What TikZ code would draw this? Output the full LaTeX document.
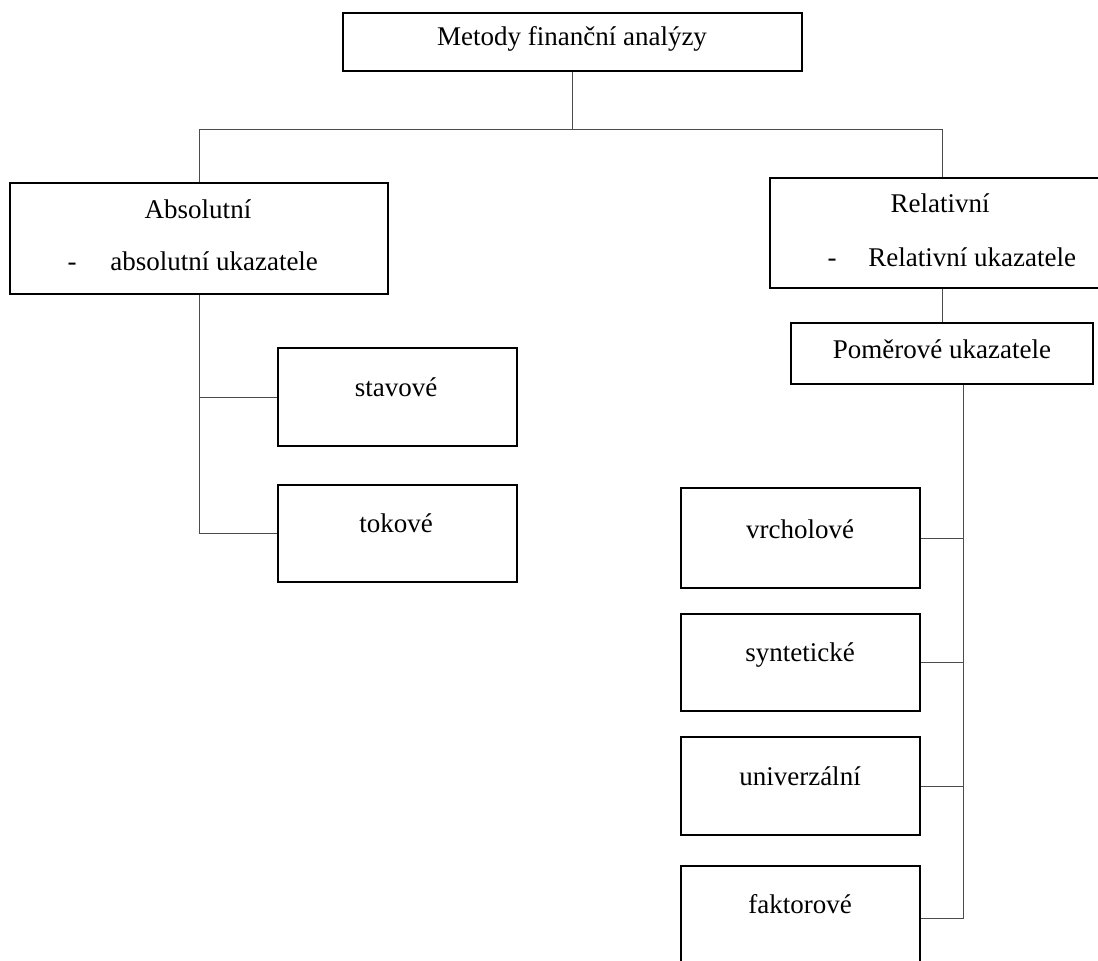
\documentclass[tikz,border=0pt]{standalone}
\usepackage{fontspec}
\setmainfont{Liberation Serif}
\usetikzlibrary{calc}
\begin{document}
\begin{tikzpicture}[x=0.025cm,y=-0.025cm,
  box/.style={draw=black,line width=1.7pt,rectangle,inner sep=0pt,anchor=north west},
  conn/.style={draw=black!70,line width=0.75pt},
  lbl/.style={inner sep=0pt,anchor=base,font=\fontsize{19.2}{23}\selectfont},
  lbll/.style={inner sep=0pt,anchor=base west,font=\fontsize{19.2}{23}\selectfont}]
\clip (0,0) rectangle (1098,960);
% boxes
\node[box,minimum width=459*0.025cm,minimum height=58*0.025cm] (top) at (342,12) {};
\node[box,minimum width=378*0.025cm,minimum height=111*0.025cm] (abs) at (9,182) {};
\node[box,minimum width=344*0.025cm,minimum height=110*0.025cm] (rel) at (769,177) {};
\node[box,minimum width=239*0.025cm,minimum height=98*0.025cm] (stav) at (277,347) {};
\node[box,minimum width=239*0.025cm,minimum height=97*0.025cm] (tok) at (277,484) {};
\node[box,minimum width=302*0.025cm,minimum height=61*0.025cm] (pom) at (790,322) {};
\node[box,minimum width=239*0.025cm,minimum height=100*0.025cm] (vrch) at (680,487) {};
\node[box,minimum width=239*0.025cm,minimum height=97*0.025cm] (synt) at (680,613) {};
\node[box,minimum width=239*0.025cm,minimum height=98*0.025cm] (univ) at (680,736) {};
\node[box,minimum width=239*0.025cm,minimum height=104*0.025cm] (fakt) at (680,865) {};
% texts
\node[lbl] (ttop) at (572,45) {Metody finanční analýzy};
\node[lbl] (tabs1) at (198,218) {Absolutní};
\node[lbl] (tabsd) at (72,270) {-};
\node[lbll] (tabs2) at (110,270) {absolutní ukazatele};
\node[lbl] (trel1) at (940,212) {Relativní};
\node[lbl] (treld) at (832,266) {-};
\node[lbll] (trel2) at (868,266) {Relativní ukazatele};
\node[lbl] (tpom) at (942,358) {Poměrové ukazatele};
\node[lbl] (tstav) at (396,396) {stavové};
\node[lbl] (ttok) at (396,532) {tokové};
\node[lbl] (tvrch) at (800,538) {vrcholové};
\node[lbl] (tsynt) at (800,661) {syntetické};
\node[lbl] (tuniv) at (800,785) {univerzální};
\node[lbl] (tfakt) at (800,913) {faktorové};
% connectors
\coordinate (j1) at ($(top.south)+(0,57)$);
\draw[conn] (top.south) -- (j1);
\draw[conn] (abs.north) |- (j1) -| (rel.north);
\draw[conn] (abs.south) |- (tok.west);
\draw[conn] (abs.south) |- (stav.west);
\draw[conn] (rel.south -| pom.north) -- (pom.north);
\coordinate (pb) at ($(pom.south)+(21,0)$);
\draw[conn] (pb) |- (fakt.east);
\draw[conn] (vrch.east) -- (vrch.east -| pb);
\draw[conn] (synt.east) -- (synt.east -| pb);
\draw[conn] (univ.east) -- (univ.east -| pb);
\end{tikzpicture}
\end{document}
